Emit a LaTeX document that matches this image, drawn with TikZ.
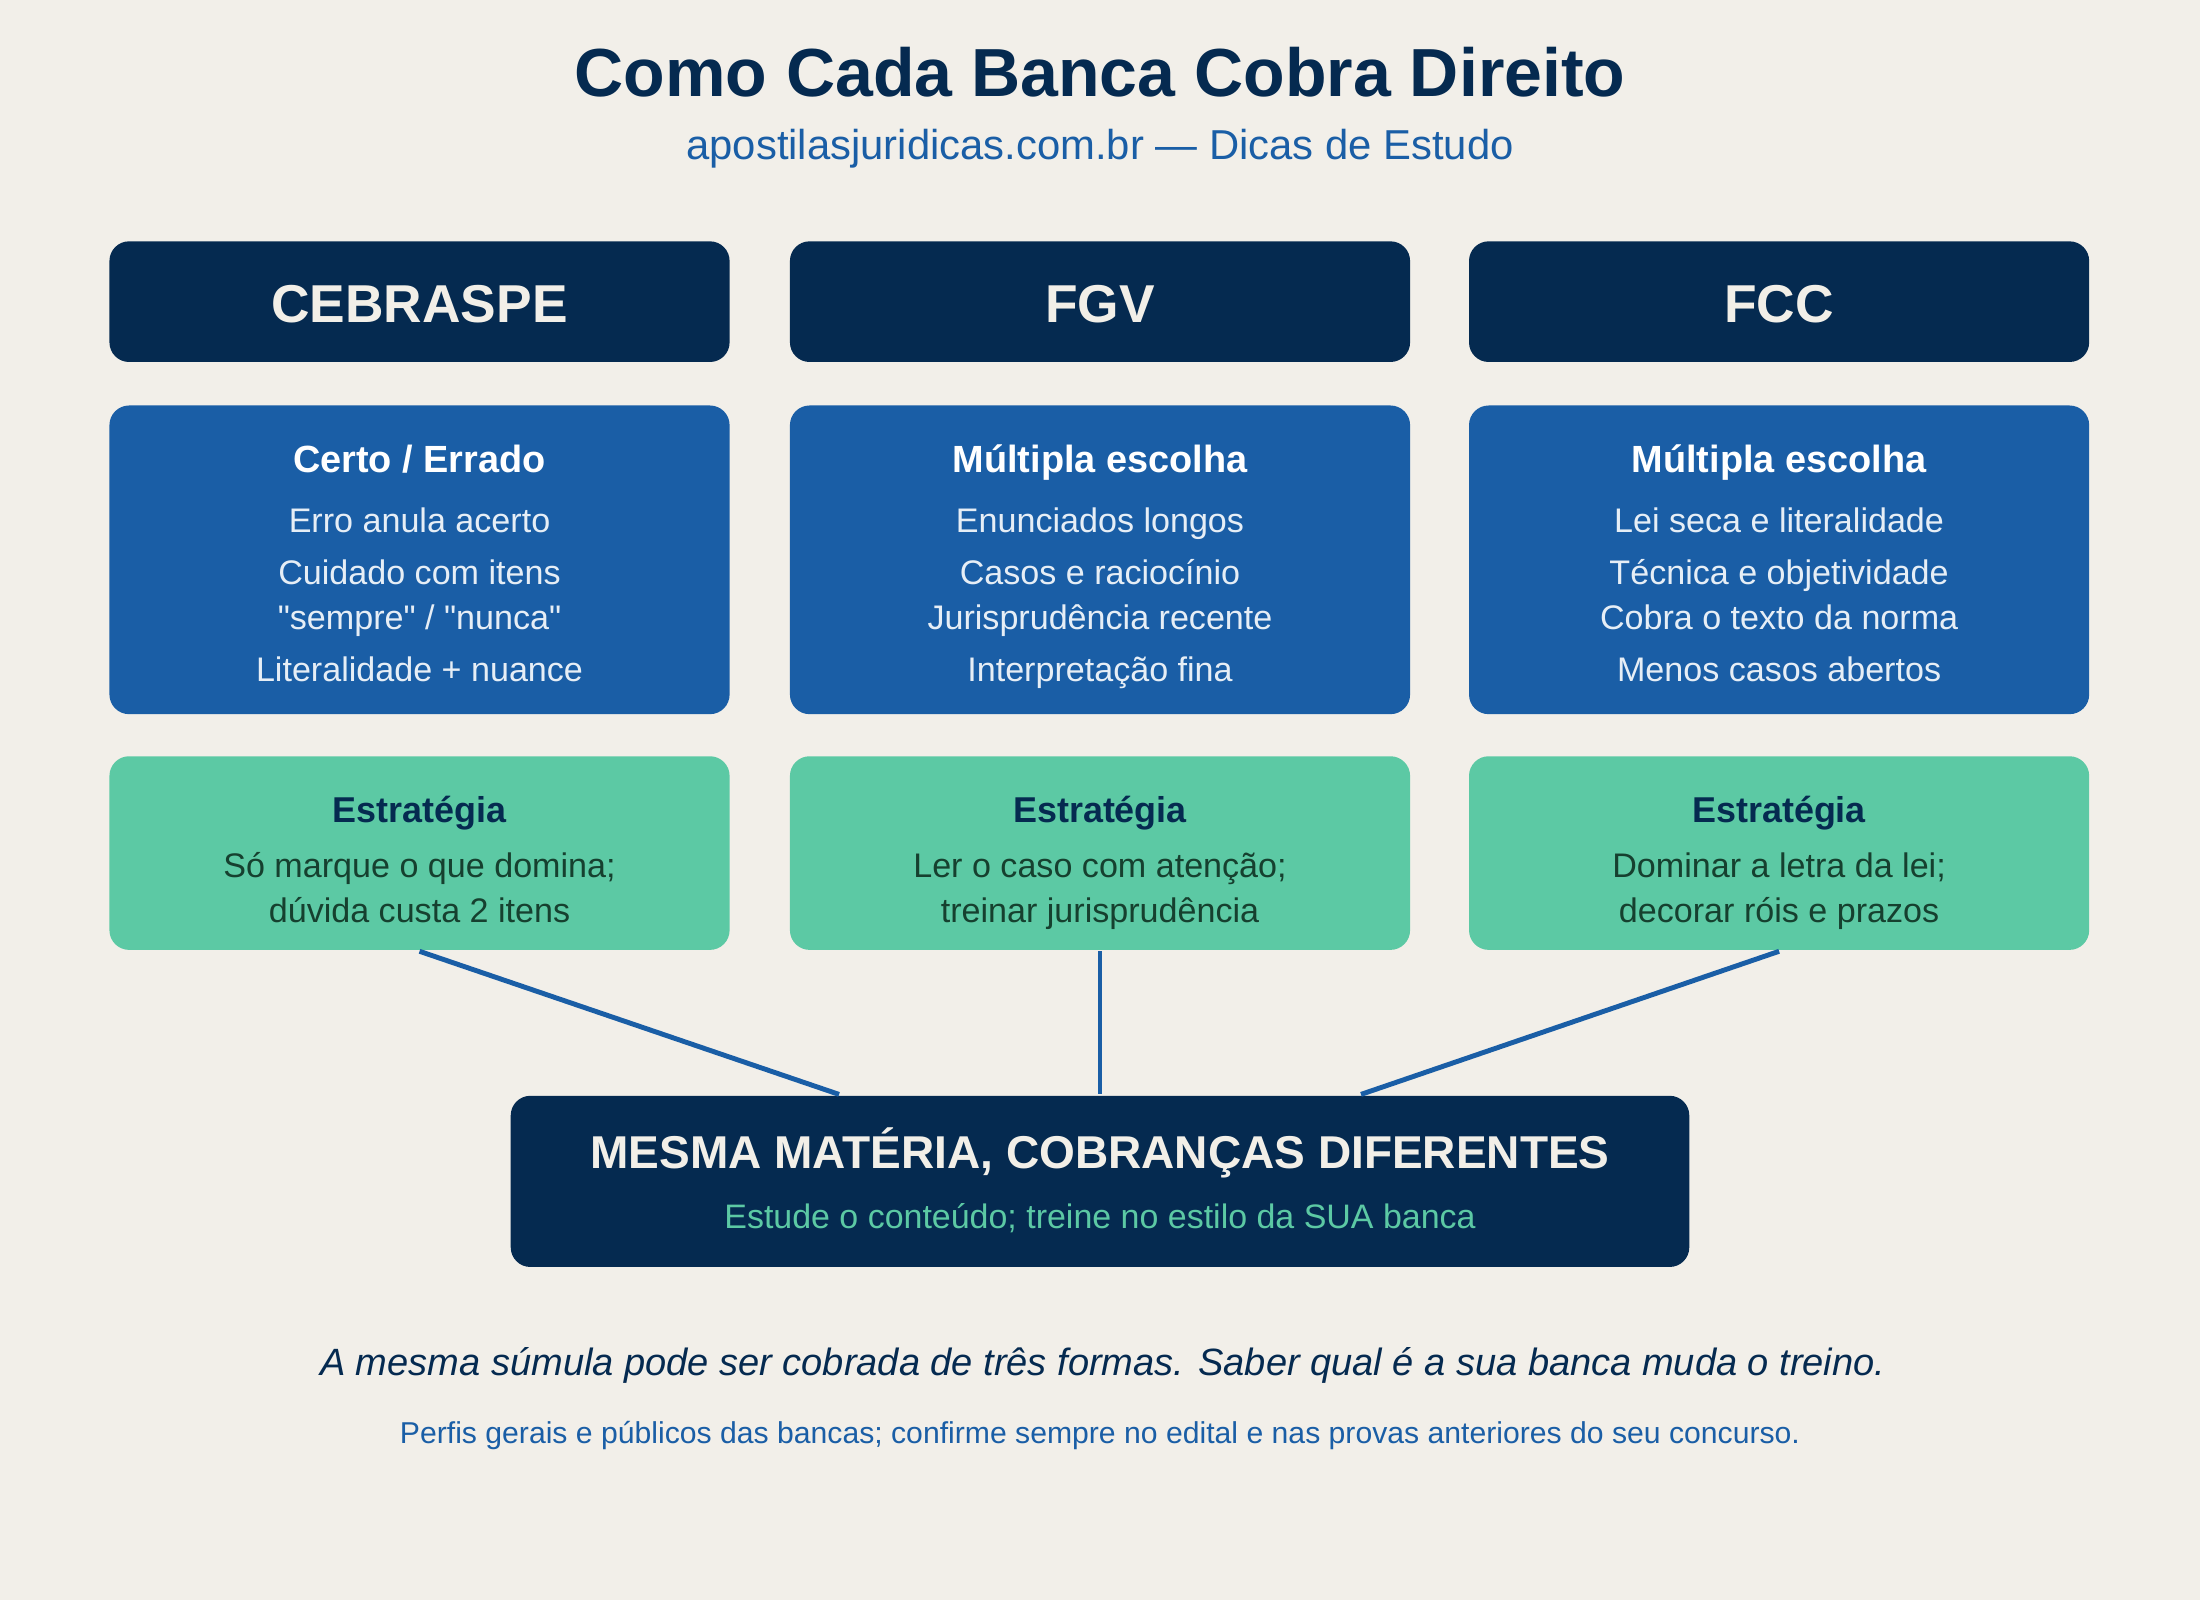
\documentclass[tikz,border=0pt]{standalone}
\usepackage{fontspec}
\setmainfont{Liberation Sans}[Ligatures=TeXOff]
\definecolor{bg}{HTML}{F2EFE9}
\definecolor{navy}{HTML}{052A50}
\definecolor{blu}{HTML}{1A5EA6}
\definecolor{grn}{HTML}{5CC9A4}
\definecolor{cream}{HTML}{F2EFE8}
\definecolor{lite}{HTML}{E6EEF6}
\definecolor{dgrn}{HTML}{16402F}
\newcommand{\fs}[1]{\fontsize{#1}{#1}\selectfont}
\newcommand{\dq}{\symbol{34}}
\begin{document}
\begin{tikzpicture}[x=1pt,y=-1pt,
 box/.style={rounded corners=14pt,inner sep=0pt},
 conn/.style={draw=blu,line width=3.5pt},
 t/.style={inner sep=0pt,anchor=base}]
\fill[bg] (0,0) rectangle (1568,1140);
\useasboundingbox (0,0) rectangle (1568,1140);
\node[t,text=navy] (title) at (784,69) {\fs{48.5}\bfseries Como Cada Banca Cobra Direito};
\node[t,text=blu] (sub) at (784,114) {\fs{29.8}apostilasjuridicas.com.br — Dicas de Estudo};
\foreach \n/\x/\h/\bt/\la/\lb/\lc/\ld/\sa/\sb in {
 a/299/CEBRASPE/{Certo / Errado}/Erro anula acerto/Cuidado com itens/{\dq sempre\dq\ / \dq nunca\dq}/Literalidade + nuance/Só marque o que domina;/dúvida custa 2 itens,
 b/784/FGV/Múltipla escolha/Enunciados longos/Casos e raciocínio/Jurisprudência recente/Interpretação fina/Ler o caso com atenção;/treinar jurisprudência,
 c/1268/FCC/Múltipla escolha/Lei seca e literalidade/Técnica e objetividade/Cobra o texto da norma/Menos casos abertos/Dominar a letra da lei;/decorar róis e prazos}{
 \fill[navy,box] (\x-221,172) rectangle (\x+221,258);
 \node[t,text=cream] (h\n) at (\x,230) {\fs{38}\bfseries \h};
 \fill[blu,box] (\x-221,289) rectangle (\x+221,509);
 \node[t,text=white] (bt\n) at (\x,337) {\fs{27}\bfseries \bt};
 \node[t,text=lite] (la\n) at (\x,379.5) {\fs{24.3}\la};
 \node[t,text=lite] (lb\n) at (\x,416.5) {\fs{24.3}\lb};
 \node[t,text=lite] (lc\n) at (\x,448.5) {\fs{24.3}\lc};
 \node[t,text=lite] (ld\n) at (\x,485.5) {\fs{24.3}\ld};
 \fill[grn,box] (\x-221,539) rectangle (\x+221,677);
 \node[t,text=navy] (st\n) at (\x,586) {\fs{25.6}\bfseries Estratégia};
 \node[t,text=dgrn] (sa\n) at (\x,625.5) {\fs{24.3}\sa};
 \node[t,text=dgrn] (sb\n) at (\x,657.5) {\fs{24.3}\sb};
 \coordinate (g\n) at (\x,678);
}
\fill[navy,box] (364,781) rectangle (1204,903);
\node[t,text=cream] (mt) at (784,833) {\fs{32.8}\bfseries MESMA MATÉRIA, COBRANÇAS DIFERENTES};
\node[t,text=grn] (ms) at (784,875.5) {\fs{24.2}Estude o conteúdo; treine no estilo da SUA banca};
\coordinate (ea) at (598,780);
\coordinate (eb) at (784,780);
\coordinate (ec) at (970,780);
\draw[conn] (ga) -- (ea);
\draw[conn] (gb) -- (eb);
\draw[conn] (gc) -- (ec);
\node[t,text=navy] (it) at (786,980.5) {\fs{27.1}\itshape A mesma súmula pode ser cobrada de três formas. Saber qual é a sua banca muda o treino.};
\node[t,text=blu] (fn) at (784,1028.5) {\fs{21.5}Perfis gerais e públicos das bancas; confirme sempre no edital e nas provas anteriores do seu concurso.};
\end{tikzpicture}
\end{document}
